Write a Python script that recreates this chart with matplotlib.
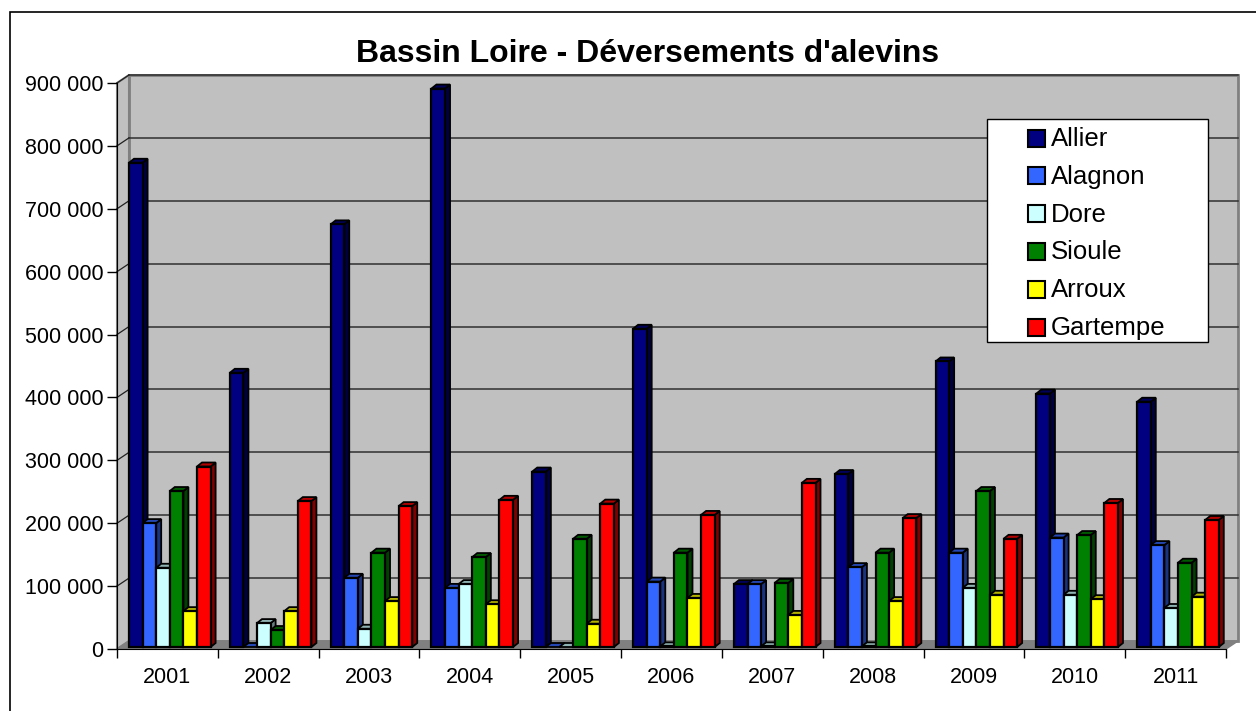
import numpy as np
import matplotlib
matplotlib.use("Agg")
import matplotlib.pyplot as plt
from matplotlib.patches import Polygon, Rectangle
from matplotlib.ticker import FuncFormatter

plt.rcParams["font.family"] = ["Liberation Sans", "DejaVu Sans"]

years = ["2001", "2002", "2003", "2004", "2005", "2006",
         "2007", "2008", "2009", "2010", "2011"]
series_names = ["Allier", "Alagnon", "Dore", "Sioule", "Arroux", "Gartempe"]
allier = [770000, 436000, 672000, 888000, 279000, 506000,
          100000, 275000, 454000, 403000, 390000]
alagnon = [197000, 0, 110000, 94000, 0, 104000,
           100000, 127000, 150000, 174000, 162000]
dore = [126000, 38000, 29000, 100000, 0, 1000,
        1000, 1000, 94000, 83000, 62000]
sioule = [248000, 27000, 150000, 143000, 172000, 150000,
          102000, 150000, 248000, 178000, 134000]
arroux = [57000, 57000, 73000, 68000, 37000, 78000,
          51000, 73000, 83000, 76000, 80000]
gartempe = [287000, 232000, 224000, 234000, 228000, 210000,
            261000, 205000, 172000, 229000, 202000]
colors = ["#000080", "#3366FF", "#CCFFFF", "#008000", "#FFFF00", "#FF0000"]

all_series = [allier, alagnon, dore, sioule, arroux, gartempe]

W, H = 1256, 711
fig = plt.figure(figsize=(W / 100, H / 100), dpi=100)
fig.patch.set_facecolor("white")

# outer chart frame (runs off the right/bottom edge like the original)
fig.add_artist(Rectangle((10 / W, -0.02), 1.05, (H - 12) / H + 0.02,
                         transform=fig.transFigure, fill=False,
                         edgecolor="black", lw=1.2))

ax_l, ax_r, ax_b, ax_t = 117, 1226, 649, 83
ax = fig.add_axes([ax_l / W, (H - ax_b) / H, (ax_r - ax_l) / W, (ax_b - ax_t) / H])
ymax = 900000
n = len(years)
ax.set_xlim(0, n)
ax.set_ylim(0, ymax)
ax.patch.set_visible(False)

# pixel -> data helpers for the fake 3d depth
px_x = n / (ax_r - ax_l)
px_y = ymax / (ax_b - ax_t)
wdx, wdy = 12 * px_x, 8 * px_y     # wall depth
bdx, bdy = 5 * px_x, 4 * px_y      # bar depth

# back wall, side wall, floor
ax.add_patch(Polygon([(wdx, wdy), (n + wdx, wdy), (n + wdx, ymax + wdy), (wdx, ymax + wdy)],
                     closed=True, facecolor="#C0C0C0", edgecolor="#808080", lw=2,
                     clip_on=False, zorder=0))
ax.add_patch(Polygon([(0, 0), (wdx, wdy), (wdx, ymax + wdy), (0, ymax)],
                     closed=True, facecolor="#C0C0C0", edgecolor="#808080", lw=1.5,
                     clip_on=False, zorder=0.5))
ax.add_patch(Polygon([(0, 0), (n, 0), (n + wdx, wdy), (wdx, wdy)],
                     closed=True, facecolor="#808080", edgecolor="#808080", lw=1,
                     clip_on=False, zorder=0.6))

for v in range(100000, ymax + 1, 100000):
    ax.plot([wdx, n + wdx], [v + wdy, v + wdy], color="#303030", lw=1.1,
            clip_on=False, zorder=0.7)
    ax.plot([0, wdx], [v, v + wdy], color="#202020", lw=0.9,
            clip_on=False, zorder=0.7)

# bars
w = 13.6 * px_x
start = 12 * px_x
z = 2
for i in range(n):
    for j, vals in enumerate(all_series):
        v = vals[i]
        x0 = i + start + j * w
        base = 2 * px_y
        col = np.array(matplotlib.colors.to_rgb(colors[j]))
        dark = tuple(col * 0.5)
        top = tuple(col * 0.7)
        ax.add_patch(Polygon([(x0 + w, base), (x0 + w + bdx, base + bdy),
                              (x0 + w + bdx, base + v + bdy), (x0 + w, base + v)],
                             closed=True, facecolor=dark, edgecolor="black", lw=1.3,
                             clip_on=False, zorder=z))
        ax.add_patch(Polygon([(x0, base + v), (x0 + bdx, base + v + bdy),
                              (x0 + w + bdx, base + v + bdy), (x0 + w, base + v)],
                             closed=True, facecolor=top, edgecolor="black", lw=1.3,
                             clip_on=False, zorder=z))
        if v > 0:
            ax.add_patch(Rectangle((x0, base), w, v, facecolor=colors[j],
                                   edgecolor="black", lw=1.6, clip_on=False, zorder=z + 0.1))
        z += 0.2

# axes lines and ticks
for s in ["top", "right"]:
    ax.spines[s].set_visible(False)
ax.spines["left"].set_color("black")
ax.spines["bottom"].set_color("black")
ax.spines["left"].set_zorder(100)
ax.spines["bottom"].set_zorder(100)

ax.set_yticks(range(0, ymax + 1, 100000))
ax.yaxis.set_major_formatter(FuncFormatter(lambda v, p: f"{int(v):,}".replace(",", " ")))
ax.tick_params(axis="y", direction="out", length=7.2, width=1, pad=2.5,
               labelsize=15.5, colors="black")

ax.set_xticks(np.arange(n) + 0.5)
ax.set_xticklabels(years)
ax.set_xticks(np.arange(n + 1), minor=True)
ax.tick_params(axis="x", which="major", length=0, pad=13, labelsize=15.5)
ax.tick_params(axis="x", which="minor", direction="out", length=6.5, width=1)

# title
fig.text(648 / W, 1 - 62 / H, "Bassin Loire - Déversements d'alevins",
         ha="center", va="baseline", fontsize=23, fontweight="bold")

# legend
lx0, ly0, lx1, ly1 = 987, 119, 1208, 342
fig.add_artist(Rectangle((lx0 / W, 1 - ly1 / H), (lx1 - lx0) / W, (ly1 - ly0) / H,
                         transform=fig.transFigure, facecolor="white",
                         edgecolor="black", lw=1, zorder=50))
for k, name in enumerate(series_names):
    cy = 138 + k * 37.8
    fig.add_artist(Rectangle((1028 / W, 1 - (cy + 8.5) / H), 17 / W, 17 / H,
                             transform=fig.transFigure, facecolor=colors[k],
                             edgecolor="black", lw=1.5, zorder=51))
    fig.text(1051 / W, 1 - (cy + 8) / H, name, ha="left", va="baseline",
             fontsize=18.5, zorder=52)

fig.savefig("out.png", dpi=100)
